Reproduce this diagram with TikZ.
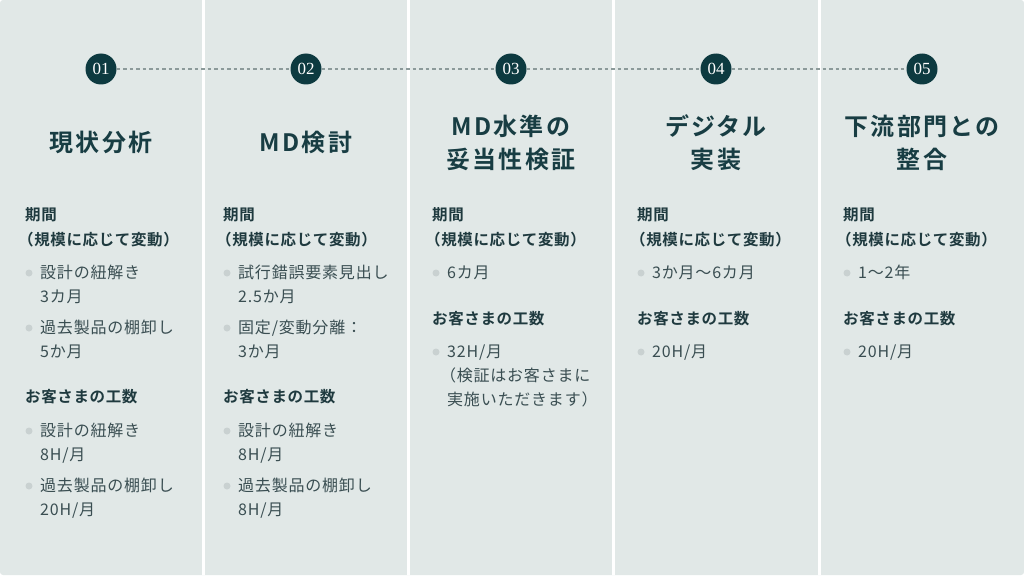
\documentclass[tikz,border=0pt]{standalone}
\usepackage{fontspec}
\setmainfont{Noto Sans CJK JP}
\newfontfamily\numfont{Liberation Serif}
\newfontfamily\bodyfont[LetterSpace=5]{Noto Sans CJK JP}
\newfontfamily\headfont[LetterSpace=4]{Noto Sans CJK JP Bold}
\newfontfamily\titlefont[LetterSpace=9]{Noto Sans CJK JP Bold}
\usepackage{tikz}
\usetikzlibrary{positioning}

\definecolor{bgc}{HTML}{E1E8E7}
\definecolor{titlec}{HTML}{183D43}
\definecolor{headc}{HTML}{1F3A3F}
\definecolor{textc}{HTML}{3A4E52}
\definecolor{dotc}{HTML}{C9D1D1}
\definecolor{dashc}{HTML}{8C9A9A}
\definecolor{circc}{HTML}{0D3A40}

\begin{document}
\begin{tikzpicture}[
		x=1pt,
		y=-1pt,
	]
		\tikzset{stepno/.style={
			circle,
			fill=circc,
			text=white,
			inner sep=0,
			minimum size=31,
			font=\numfont\fontsize{17pt}{17pt}\selectfont,
		}}
		\tikzset{title/.style={
			anchor=base,
			align=center,
			inner sep=0,
			text=titlec,
			font=\titlefont\fontsize{24pt}{33pt}\selectfont,
		}}
		\tikzset{head/.style={
			anchor=base west,
			align=left,
			inner sep=0,
			text=headc,
			font=\headfont\fontsize{15.5pt}{25pt}\selectfont,
		}}
		\tikzset{item/.style={
			anchor=base west,
			align=left,
			inner sep=0,
			text=textc,
			font=\bodyfont\fontsize{16pt}{24pt}\selectfont,
		}}
		\tikzset{dashline/.style={
			draw=dashc,
			line width=1.1pt,
			dash pattern=on 3.5pt off 3pt,
		}}
		\tikzset{sepline/.style={
			draw=white,
			line width=3pt,
		}}

		\useasboundingbox (0,0) rectangle (1024,575);
		\fill[bgc, rounded corners=3] (0,0) rectangle (1024,575);
		\draw[sepline] (203.5,0) -- (203.5,575);
		\draw[sepline] (408.5,0) -- (408.5,575);
		\draw[sepline] (613.5,0) -- (613.5,575);
		\draw[sepline] (819.5,0) -- (819.5,575);

		%---------------------------------
		% Steps
		\node[stepno] (n1) at (101,69) {01};
		\node[stepno] (n2) at (306,69) {02};
		\node[stepno] (n3) at (511,69) {03};
		\node[stepno] (n4) at (716,69) {04};
		\node[stepno] (n5) at (922,69) {05};

		\draw[dashline] (n1) -- (n2);
		\draw[dashline] (n2) -- (n3);
		\draw[dashline] (n3) -- (n4);
		\draw[dashline] (n4) -- (n5);

		%---------------------------------
		% Titles (base = last line)
		\node[title] (t1) at (101,151.4) {現状分析};
		\node[title] (t2) at (306,151.4) {MD検討};
		\node[title] (t3) at (511,168.4) {MD水準の\\妥当性検証};
		\node[title] (t4) at (716,168.4) {デジタル\\実装};
		\node[title] (t5) at (922,168.4) {下流部門との\\整合};

		%---------------------------------
		% Step 1
		\node[head] (h1a) at (25,245.5) {期間\\\kern-.45em（規模に応じて変動）};
		\node[item] (p1a) at (40,302.6) {設計の紐解き\\3カ月};
		\node[item] (p1b) at (40,357.6) {過去製品の棚卸し\\5か月};
		\node[head] (h1b) at (25,402.5) {お客さまの工数};
		\node[item] (p1c) at (40,460.6) {設計の紐解き\\8H/月};
		\node[item] (p1d) at (40,515.6) {過去製品の棚卸し\\20H/月};

		\fill[dotc] ([xshift=-11pt,yshift=29.6pt]p1a.base west) circle[radius=3.5pt];
		\fill[dotc] ([xshift=-11pt,yshift=29.6pt]p1b.base west) circle[radius=3.5pt];
		\fill[dotc] ([xshift=-11pt,yshift=29.6pt]p1c.base west) circle[radius=3.5pt];
		\fill[dotc] ([xshift=-11pt,yshift=29.6pt]p1d.base west) circle[radius=3.5pt];

		%---------------------------------
		% Step 2
		\node[head] (h2a) at (223,245.5) {期間\\\kern-.45em（規模に応じて変動）};
		\node[item] (p2a) at (238,302.6) {試行錯誤要素見出し\\2.5か月};
		\node[item] (p2b) at (238,357.6) {固定/変動分離：\\3か月};
		\node[head] (h2b) at (223,402.5) {お客さまの工数};
		\node[item] (p2c) at (238,460.6) {設計の紐解き\\8H/月};
		\node[item] (p2d) at (238,515.6) {過去製品の棚卸し\\8H/月};

		\fill[dotc] ([xshift=-11pt,yshift=29.6pt]p2a.base west) circle[radius=3.5pt];
		\fill[dotc] ([xshift=-11pt,yshift=29.6pt]p2b.base west) circle[radius=3.5pt];
		\fill[dotc] ([xshift=-11pt,yshift=29.6pt]p2c.base west) circle[radius=3.5pt];
		\fill[dotc] ([xshift=-11pt,yshift=29.6pt]p2d.base west) circle[radius=3.5pt];

		%---------------------------------
		% Step 3
		\node[head] (h3a) at (432,245.5) {期間\\\kern-.45em（規模に応じて変動）};
		\node[item] (p3a) at (447,278.6) {6カ月};
		\node[head] (h3b) at (432,324.5) {お客さまの工数};
		\node[item] (p3b) at (447,405.6) {32H/月\\\kern-.45em（検証はお客さまに\\実施いただきます）};

		\fill[dotc] ([xshift=-11pt,yshift=5.6pt]p3a.base west) circle[radius=3.5pt];
		\fill[dotc] ([xshift=-11pt,yshift=53.6pt]p3b.base west) circle[radius=3.5pt];

		%---------------------------------
		% Step 4
		\node[head] (h4a) at (637,245.5) {期間\\\kern-.45em（規模に応じて変動）};
		\node[item] (p4a) at (652,278.6) {3か月〜6カ月};
		\node[head] (h4b) at (637,324.5) {お客さまの工数};
		\node[item] (p4b) at (652,357.6) {20H/月};

		\fill[dotc] ([xshift=-11pt,yshift=5.6pt]p4a.base west) circle[radius=3.5pt];
		\fill[dotc] ([xshift=-11pt,yshift=5.6pt]p4b.base west) circle[radius=3.5pt];

		%---------------------------------
		% Step 5
		\node[head] (h5a) at (843,245.5) {期間\\\kern-.45em（規模に応じて変動）};
		\node[item] (p5a) at (858,278.6) {1〜2年};
		\node[head] (h5b) at (843,324.5) {お客さまの工数};
		\node[item] (p5b) at (858,357.6) {20H/月};

		\fill[dotc] ([xshift=-11pt,yshift=5.6pt]p5a.base west) circle[radius=3.5pt];
		\fill[dotc] ([xshift=-11pt,yshift=5.6pt]p5b.base west) circle[radius=3.5pt];
	\end{tikzpicture}
\end{document}
